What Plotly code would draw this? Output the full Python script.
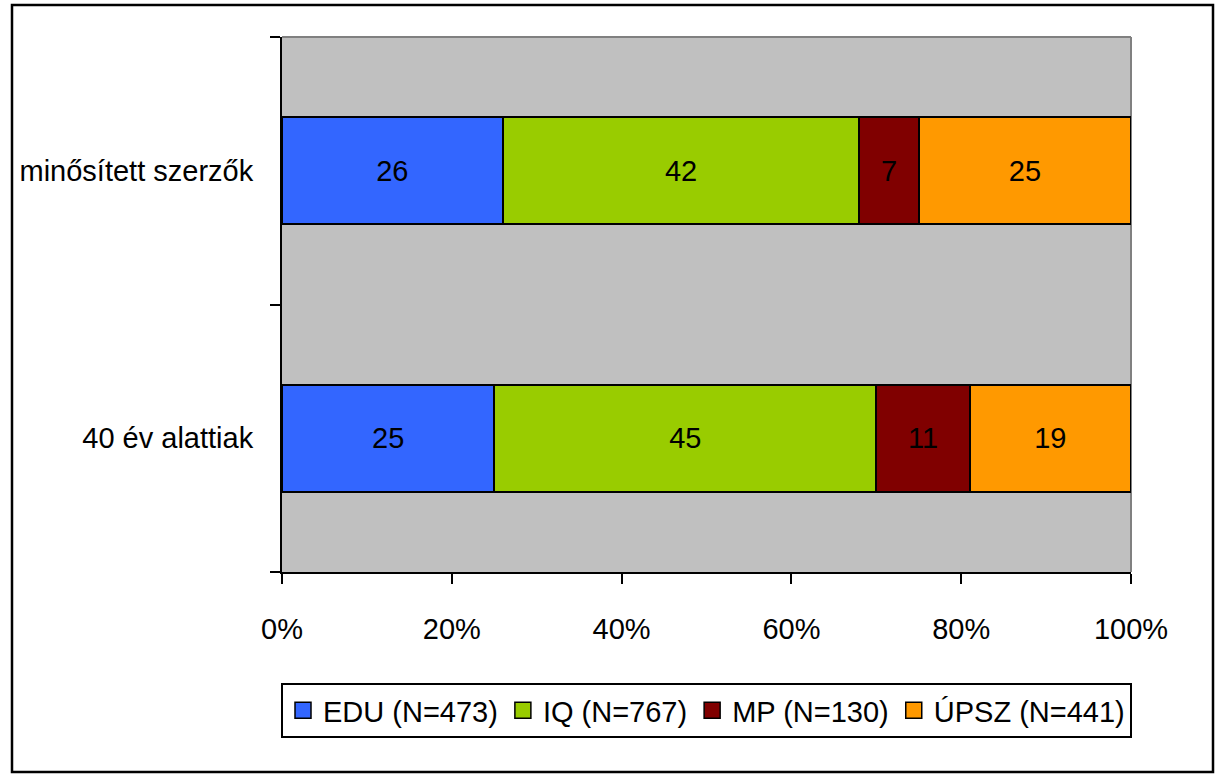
import plotly.graph_objects as go

categories = ["40 év alattiak", "minősített szerzők"]
series_names = ["EDU (N=473)", "IQ (N=767)", "MP (N=130)", "ÚPSZ (N=441)"]
edu = [25, 26]
iq = [45, 42]
mp = [11, 7]
upsz = [19, 25]
series_values = [edu, iq, mp, upsz]
colors = ["#3366FF", "#99CC00", "#800000", "#FF9900"]
x_ticks = [0, 20, 40, 60, 80, 100]

FONT = "Liberation Sans, Arial, sans-serif"
FS = 29

fig = go.Figure()
for i, (name, vals, col) in enumerate(zip(series_names, series_values, colors)):
    fig.add_trace(go.Bar(
        y=categories, x=vals, name=name, orientation="h",
        marker=dict(color=col, line=dict(color="black", width=2)),
        width=0.4, showlegend=False, legendgroup=f"g{i}",
        text=[str(v) for v in vals], textposition="inside",
        insidetextanchor="middle", textangle=0, constraintext="none",
        textfont=dict(color="black", size=FS, family=FONT),
        hoverinfo="skip",
    ))
# legend swatches (no data points), square markers like the original
for i, (name, col) in enumerate(zip(series_names, colors)):
    fig.add_trace(go.Scatter(
        x=[None], y=[None], mode="markers", name=name, legendgroup=f"g{i}",
        marker=dict(symbol="square", size=16, color=col,
                    line=dict(color="black", width=1.5)),
        hoverinfo="skip",
    ))

L, R, T, B = 282, 89, 37, 202
W, H = 1220, 774
pw, ph = W - L - R, H - T - B

def px_x(p):
    return (p - L) / pw

def px_y(p):
    return (H - B - p) / ph

fig.update_layout(
    width=W, height=H,
    barmode="stack",
    margin=dict(l=L, r=R, t=T, b=B, pad=0, autoexpand=False),
    paper_bgcolor="white",
    plot_bgcolor="#C0C0C0",
    font=dict(family=FONT, size=FS, color="black"),
    showlegend=True,
    legend=dict(
        orientation="h", x=0.5, xanchor="center", y=px_y(683), yanchor="top",
        bordercolor="black", borderwidth=2, bgcolor="white",
        font=dict(family=FONT, size=29, color="black"),
        traceorder="normal", itemwidth=30, itemsizing="trace",
    ),
    xaxis=dict(
        range=[0, 100], tickvals=x_ticks, ticktext=[f"{v}%" for v in x_ticks],
        showgrid=False, zeroline=False, automargin=False,
        showline=True, linecolor="black", linewidth=2,
        ticks="outside", ticklen=10, tickwidth=2, tickcolor="black",
        ticklabelstandoff=20,
        tickfont=dict(family=FONT, size=FS, color="black"),
    ),
    yaxis=dict(
        type="category", categoryorder="array", categoryarray=categories,
        range=[-0.5, 1.5], automargin=False,
        showgrid=False, zeroline=False,
        showline=True, linecolor="black", linewidth=2,
        ticks="outside", ticklen=10, tickwidth=2, tickcolor="black",
        tickson="boundaries", ticklabelstandoff=21,
        tickfont=dict(family=FONT, size=FS, color="black"),
    ),
    shapes=[
        dict(type="line", xref="paper", yref="paper", x0=0, x1=1, y0=1, y1=1,
             line=dict(color="#808080", width=2), layer="below"),
        dict(type="line", xref="paper", yref="paper", x0=1, x1=1, y0=0, y1=1,
             line=dict(color="#808080", width=2), layer="below"),
        dict(type="rect", xref="paper", yref="paper",
             x0=px_x(12), x1=px_x(1213), y0=px_y(772), y1=px_y(5),
             line=dict(color="black", width=2.5), fillcolor="rgba(0,0,0,0)"),
    ],
)

fig.write_html(
    "out.html",
    config={"displayModeBar": False},
    post_script="document.body.style.margin='0';document.body.style.overflow='hidden';",
)
